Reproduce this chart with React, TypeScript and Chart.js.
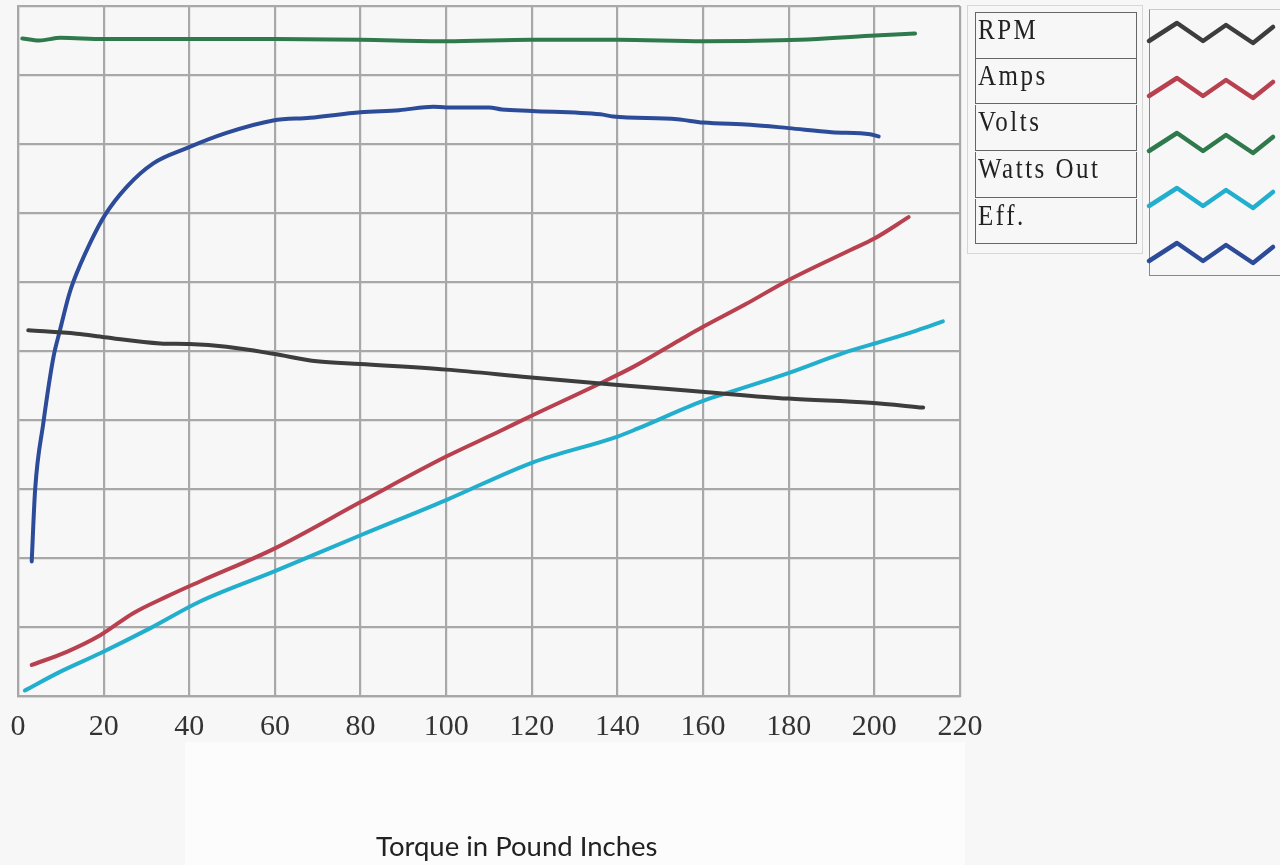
import React, { useEffect, useRef } from "react";
import { Chart, registerables } from "chart.js";

Chart.register(...registerables);

// ---- data (x = torque in pound inches, y = grid units 0..10) ----
const xTicks = [0, 20, 40, 60, 80, 100, 120, 140, 160, 180, 200, 220];

const rpmX = [2.4, 13.7, 20.2, 33.2, 40, 48.7, 59.6, 69.8, 79.9, 100, 119.2, 139.4, 159.7, 179.9, 199, 211.4];
const rpmY = [5.3, 5.25, 5.2, 5.11, 5.1, 5.06, 4.96, 4.85, 4.81, 4.73, 4.62, 4.51, 4.41, 4.31, 4.25, 4.18];

const ampsX = [3.2, 11.4, 19.2, 26.9, 34.7, 42.5, 60, 80, 100, 112.6, 119.2, 135.9, 143.7, 154.6, 160, 170, 180, 194.3, 200, 208];
const ampsY = [0.45, 0.64, 0.88, 1.2, 1.44, 1.66, 2.14, 2.81, 3.47, 3.84, 4.04, 4.53, 4.77, 5.16, 5.35, 5.68, 6.03, 6.46, 6.63, 6.94];

const voltsX = [1, 5, 10, 20, 40, 60, 80, 100, 120, 140, 160, 182.6, 199, 209.5];
const voltsY = [9.53, 9.5, 9.54, 9.52, 9.52, 9.52, 9.51, 9.49, 9.51, 9.51, 9.49, 9.51, 9.57, 9.6];

const wattsX = [1.6, 9.8, 19.2, 30.8, 42.5, 60, 80, 100, 120, 140, 144.5, 159.7, 165.5, 179.9, 192.7, 202.9, 210, 216];
const wattsY = [0.08, 0.35, 0.62, 0.98, 1.37, 1.81, 2.33, 2.84, 3.38, 3.76, 3.87, 4.27, 4.39, 4.68, 4.97, 5.16, 5.3, 5.43];

const effX = [3.2, 4.0, 5.9, 8.3, 9.8, 11.8, 12.9, 16.8, 20.3, 25.4, 31.6, 39.4, 48.7, 59.6, 68.2, 80, 89, 97, 100, 110, 113, 120, 136, 139, 154, 160, 171, 180, 190, 199, 201];
const effY = [1.95, 2.99, 3.95, 4.92, 5.3, 5.79, 6.0, 6.56, 6.97, 7.38, 7.72, 7.94, 8.16, 8.34, 8.38, 8.46, 8.49, 8.54, 8.53, 8.53, 8.5, 8.48, 8.43, 8.4, 8.36, 8.31, 8.28, 8.23, 8.17, 8.14, 8.11];

const seriesNames = ["RPM", "Amps", "Volts", "Watts Out", "Eff."];
const seriesColors = ["#3d3d3d", "#b8404f", "#2f7a4c", "#22aecd", "#2c4b98"];
const seriesXs = [rpmX, ampsX, voltsX, wattsX, effX];
const seriesYs = [rpmY, ampsY, voltsY, wattsY, effY];

// zig-zag swatch shape used in the legend
const zigX = [0, 28, 54, 77, 104, 124];
const zigY = [12, -6, 12, -4, 14, -2];

const xTitle = "Torque in Pound Inches";

export default function App() {
  const ref = useRef<HTMLCanvasElement | null>(null);

  useEffect(() => {
    if (!ref.current) return;
    const datasets = seriesNames.map((name, i) => ({
      label: name,
      data: seriesXs[i].map((x, j) => ({ x, y: seriesYs[i][j] })),
      borderColor: seriesColors[i],
      backgroundColor: seriesColors[i],
      borderWidth: 4,
      pointRadius: 0,
      cubicInterpolationMode: "monotone" as const,
      fill: false,
      borderCapStyle: "round" as const,
    }));
    const chart = new Chart(ref.current, {
      type: "line",
      data: { datasets },
      options: {
        animation: false,
        responsive: false,
        devicePixelRatio: 1,
        layout: { padding: { left: 18, top: 6, right: 320, bottom: 0 } },
        plugins: { legend: { display: false }, tooltip: { enabled: false }, title: { display: false } },
        scales: {
          x: {
            type: "linear",
            min: 0,
            max: 220,
            afterBuildTicks: (scale: any) => {
              scale.ticks = xTicks.map((v) => ({ value: v }));
            },
            afterFit: (scale: any) => {
              scale.height = 169;
              scale.paddingLeft = 0;
              scale.paddingRight = 0;
            },
            grid: { color: "#a8a8a8", lineWidth: 2.2, drawTicks: false },
            border: { color: "#a8a8a8", width: 2.2 },
            ticks: {
              padding: 13,
              color: "#333333",
              font: { family: "'Liberation Serif', serif", size: 30 },
              maxRotation: 0,
              autoSkip: false,
            },
          },
          y: {
            type: "linear",
            min: 0,
            max: 10,
            afterFit: (scale: any) => {
              scale.width = 0;
            },
            ticks: { display: false, stepSize: 1 },
            grid: { color: "#a8a8a8", lineWidth: 2.2, drawTicks: false },
            border: { color: "#a8a8a8", width: 2.2 },
          },
        },
      },
    });
    return () => chart.destroy();
  }, []);

  const rowTop = 12;
  const rowH = 46.7;
  const swatchTop = 9;
  const swatchRowH = 55;

  return (
    <div
      style={{
        position: "fixed",
        left: 0,
        top: 0,
        width: 1280,
        height: 865,
        background: "#f7f7f7",
        overflow: "hidden",
      }}
    >
      <div style={{ position: "absolute", left: 185, top: 742, width: 780, height: 123, background: "#fcfcfc" }} />
      <canvas ref={ref} width={1280} height={865} style={{ position: "absolute", left: 0, top: 0, width: 1280, height: 865 }} />
      <div
        style={{
          position: "absolute",
          left: 376,
          top: 829,
          fontFamily: "Lato, 'Open Sans', sans-serif",
          fontSize: 27.5,
          color: "#222",
          whiteSpace: "nowrap",
        }}
      >
        {xTitle}
      </div>
      {/* legend table */}
      <div style={{ position: "absolute", left: 967, top: 5, width: 174, height: 247, border: "1px solid #d6d6d6" }} />
      {seriesNames.map((name, i) => (
        <div
          key={name}
          style={{
            position: "absolute",
            left: 975,
            top: rowTop + i * rowH,
            width: 158,
            height: rowH - 2,
            border: "1.5px solid #666",
            borderTop: i === 0 ? "1.5px solid #666" : "none",
            boxSizing: "content-box",
            fontFamily: "'Liberation Serif', serif",
            fontSize: 25,
            letterSpacing: 2.5,
            color: "#222",
            paddingLeft: 2,
            lineHeight: "28px",
            whiteSpace: "nowrap",
          }}
        >
          <span style={{ display: "inline-block", transform: "scaleY(1.2)", transformOrigin: "left top" }}>{name}</span>
        </div>
      ))}
      <div style={{ position: "absolute", left: 1149, top: swatchTop, width: 140, height: 265, borderLeft: "1.5px solid #888", borderBottom: "1.5px solid #888", borderTop: "1px solid #ccc" }} />
      <svg style={{ position: "absolute", left: 0, top: 0 }} width={1280} height={865}>
        {seriesNames.map((name, i) => {
          const cy = swatchTop + 20 + i * swatchRowH;
          const pts = zigX.map((dx, j) => `${1149 + dx},${cy + zigY[j]}`).join(" ");
          return (
            <polyline
              key={name}
              points={pts}
              fill="none"
              stroke={seriesColors[i]}
              strokeWidth={4.5}
              strokeLinejoin="round"
              strokeLinecap="round"
            />
          );
        })}
      </svg>
    </div>
  );
}
